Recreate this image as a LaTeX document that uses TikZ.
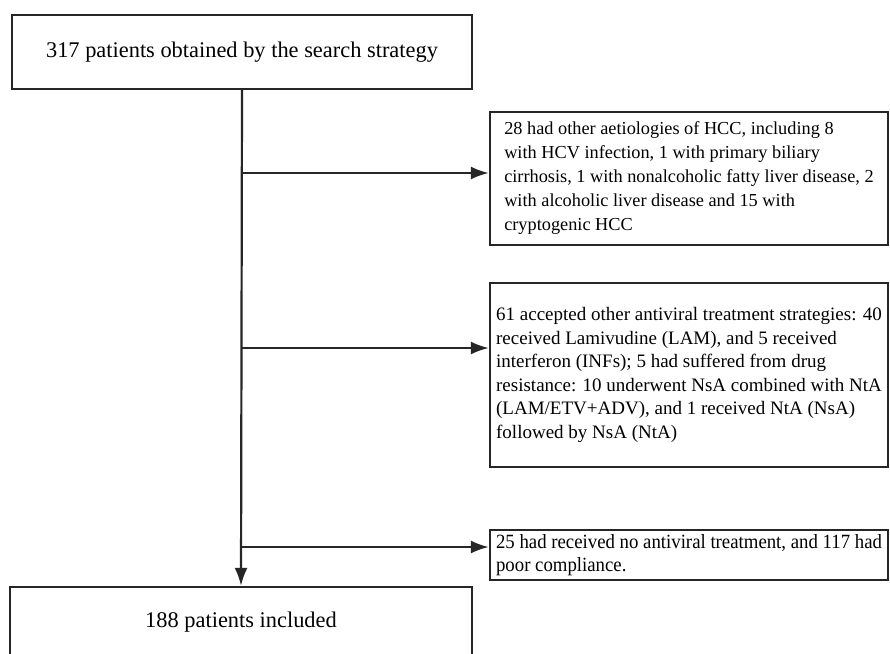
\documentclass[tikz,border=0pt]{standalone}
\usepackage{fontspec}
\setmainfont{Liberation Serif}
\newfontfamily\narrowserif[FakeStretch=0.93]{Liberation Serif}
\usetikzlibrary{arrows.meta}
\begin{document}
\begin{tikzpicture}[x=1pt,y=-1pt,
  box/.style={draw=black!85, line width=2.4pt, fill=white, inner sep=0pt},
  arr/.style={draw=black!85, line width=2.2pt, -{Latex[length=18pt,width=13pt]}},
  bodytext/.style={align=left},
  bigtext/.style={font=\fontsize{22.4}{26}\selectfont}]
\useasboundingbox[fill=white] (0,0) rectangle (890,653);
\node[box, bigtext, minimum width=460, minimum height=74] (top) at (242,52) {317 patients obtained by the search strategy};
\node[box, bigtext, minimum width=462, minimum height=70] (bot) at (241,622) {188 patients included};
\node[box, bodytext, font=\fontsize{18.3}{24}\selectfont, minimum width=398, minimum height=133] (b1) at (689,178.5) {28 had other aetiologies of HCC, including 8\\with HCV infection, 1 with primary biliary\\cirrhosis, 1 with nonalcoholic fatty liver disease, 2\\with alcoholic liver disease and 15 with\\cryptogenic HCC};
\node[box, bodytext, font=\fontsize{19}{23.6}\selectfont, minimum width=398, minimum height=184] (b2) at (689,375) {61 accepted other antiviral treatment strategies: 40\\received Lamivudine (LAM), and 5 received\\interferon (INFs); 5 had suffered from drug\\resistance: 10 underwent NsA combined with NtA\\(LAM/ETV+ADV), and 1 received NtA (NsA)\\followed by NsA (NtA)};
\node[box, bodytext, font=\narrowserif\fontsize{20.2}{23.5}\selectfont, minimum width=398, minimum height=50] (b3) at (689,555) {25 had received no antiviral treatment, and 117 had\\poor compliance.};
\coordinate (j1) at (242,173);
\coordinate (j2) at (242,348);
\coordinate (j3) at (242,547);
\draw[arr] (top.south) -- (bot.north);
\draw[arr] (j1) -- (j1 -| b1.west);
\draw[arr] (j2) -- (j2 -| b2.west);
\draw[arr] (j3) -- (j3 -| b3.west);
\end{tikzpicture}
\end{document}
